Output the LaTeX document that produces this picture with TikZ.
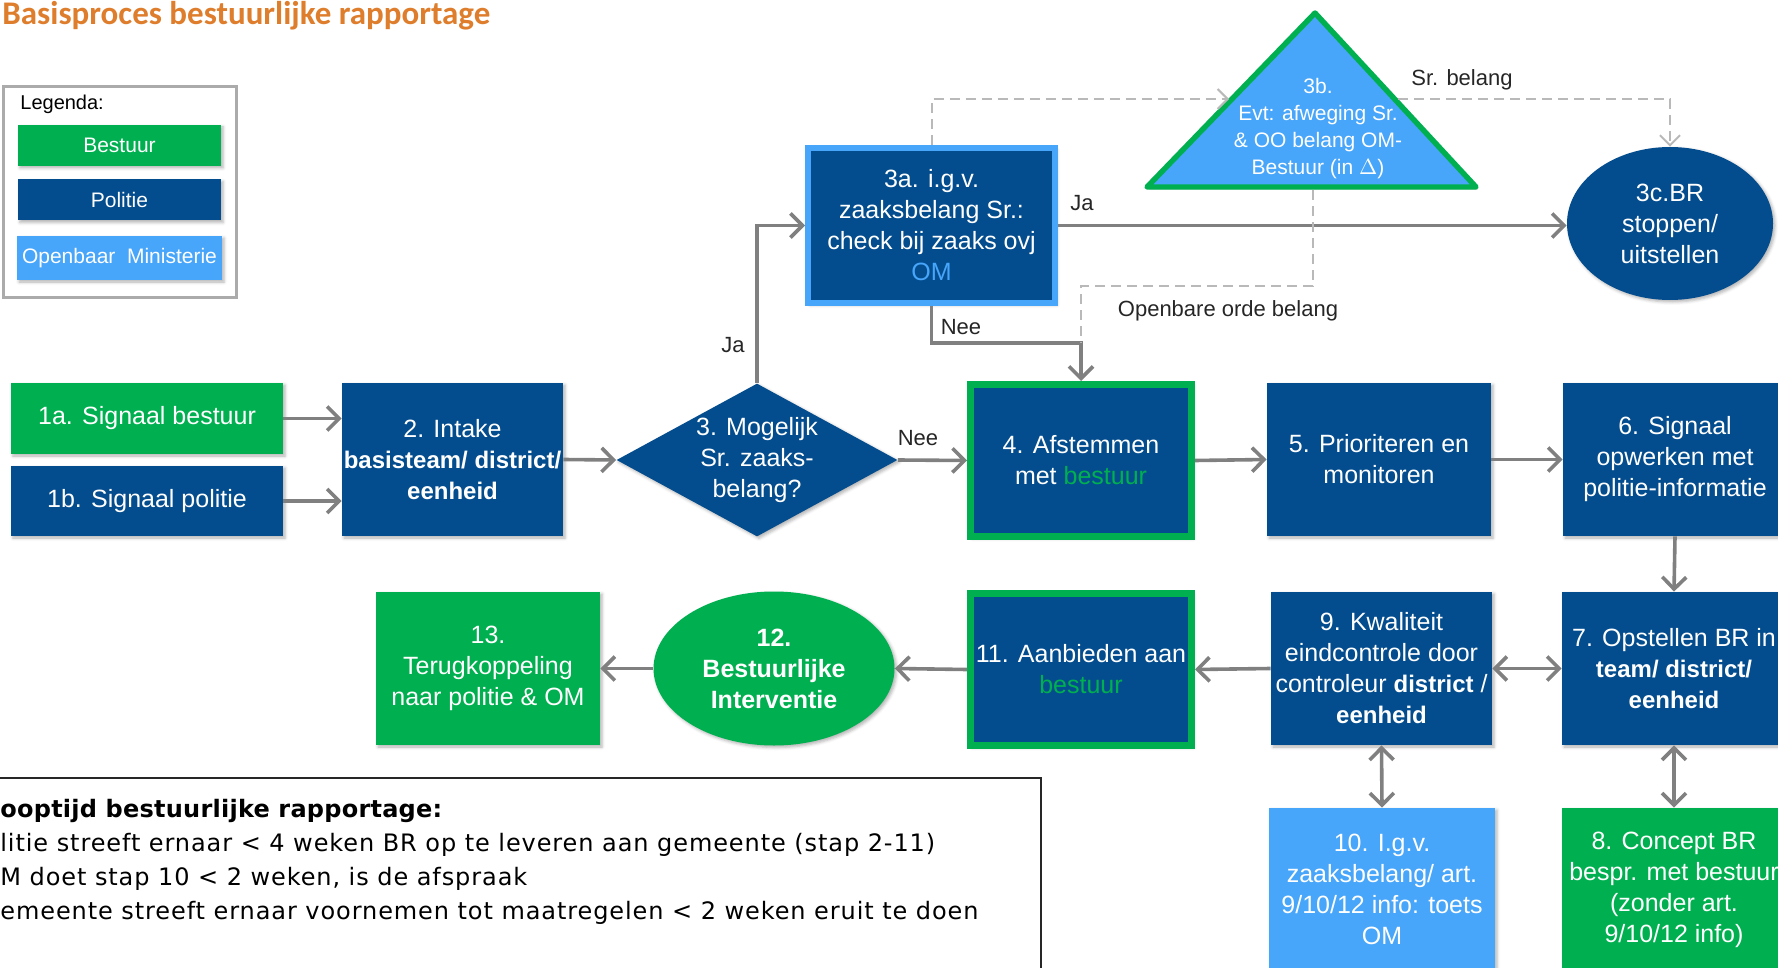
\documentclass[tikz,border=0pt]{standalone}
\usepackage{fontspec}
\setmainfont{Liberation Sans}
\newfontfamily\titelfont{Carlito}
\newfontfamily\notefont[LetterSpace=3.8]{DejaVu Sans}
\newfontfamily\notefontvet[LetterSpace=1]{DejaVu Sans}
\usetikzlibrary{arrows.meta, shapes.geometric, shadows.blur}
\definecolor{bestuur}{RGB}{0, 176, 80}
\definecolor{politie}{RGB}{3, 76, 141}
\definecolor{om}{RGB}{71, 165, 250}
\definecolor{pijlgrijs}{RGB}{128, 128, 128}
\definecolor{stipgrijs}{RGB}{185, 185, 185}
\definecolor{titel}{RGB}{222, 125, 44}
\newcommand\stapfont{\fontsize{12.5}{15.5}\selectfont}
\newcommand\kleinfont{\fontsize{11}{13}\selectfont}
\newcommand\smalvet[1]{{\fontsize{12}{15.5}\selectfont\bfseries #1}}
\tikzset{
  schaduw/.style={blur shadow={shadow xshift=1pt, shadow yshift=-1pt, shadow blur radius=1.5pt, shadow opacity=30}},
  stap/.style={rectangle, inner sep=0pt, align=center, text=white, font=\stapfont, minimum width=112pt, minimum height=76.5pt, schaduw},
  keuze/.style={diamond, aspect=1.84, inner sep=0pt, align=center, text=white, font=\stapfont, fill=politie, minimum width=140.5pt, minimum height=76.5pt, schaduw},
  rond/.style={ellipse, inner sep=0pt, align=center, text=white, font=\stapfont, schaduw},
  legendabox/.style={rectangle, inner sep=0pt, text=white, font=\fontsize{10.5}{12}\selectfont, minimum width=101.5pt, minimum height=20.5pt, schaduw},
  tekst/.style={inner sep=1pt, font=\kleinfont, text=black!85},
  pijl/.style={draw=pijlgrijs, line width=1.8pt, -{Straight Barb[length=6pt, width=12pt]}},
  dubbel/.style={draw=pijlgrijs, line width=1.8pt, {Straight Barb[length=6pt, width=12pt]}-{Straight Barb[length=6pt, width=12pt]}},
  stip/.style={draw=stipgrijs, line width=1pt, dash pattern=on 5pt off 3pt},
  notitie/.style={anchor=base west, inner sep=0pt, font=\notefont\fontsize{12}{14}\selectfont}
}

\begin{document}
\begin{tikzpicture}[x=0.5pt, y=-0.5pt]
    \useasboundingbox (0,0) rectangle (1778,968);
    \clip (0,0) rectangle (1778,968);

    % Title
    \node[anchor=base west, inner sep=0pt, text=titel, font=\titelfont\bfseries\fontsize{16.5}{19}\selectfont] (titel) at (2,25) {Basisproces bestuurlijke rapportage};

    % Legend
    \node[draw=black!33, line width=1.5pt, minimum width=116.5pt, minimum height=105.5pt] (legenda) at (120,192) {};
    \node[anchor=west, inner sep=0pt, font=\fontsize{10}{12}\selectfont] (legendakop) at (20,104) {Legenda:};
    \node[legendabox, fill=bestuur] (lbestuur) at (119.5,145.5) {Bestuur};
    \node[legendabox, fill=politie] (lpolitie) at (119.5,200) {Politie};
    \node[legendabox, fill=om, minimum width=102.5pt, minimum height=22pt] (lom) at (119.5,258) {Openbaar~ Ministerie};

    % Upper row
    \node[stap, fill=bestuur, minimum width=136pt, minimum height=35.5pt] (s1a) at (147,418.5) {1a. Signaal bestuur};
    \node[stap, fill=politie, minimum width=136pt, minimum height=35pt] (s1b) at (147,501) {1b. Signaal politie};
    \node[stap, fill=politie, minimum width=110.5pt] (s2) at (452.5,459.5) {2. Intake\\\smalvet{basisteam/ district/}\\\smalvet{eenheid}};
    \node[keuze] (s3) at (757,460) {3. Mogelijk\\Sr. zaaks-\\belang?};
    \node[stap, fill=politie, draw=bestuur, line width=3.5pt, minimum width=110.5pt, minimum height=76pt] (s4) at (1081,460.5) {4. Afstemmen\\met \textcolor{bestuur}{bestuur}};
    \node[stap, fill=politie] (s5) at (1379,459.5) {5. Prioriteren en\\monitoren};
    \node[stap, fill=politie] (s6) at (1675,459.5) {6. Signaal\\opwerken met\\politie-informatie};

    % Top part
    \node[stap, fill=politie, draw=om, line width=3pt, minimum width=123.5pt, minimum height=77.5pt] (s3a) at (931.5,225.5) {3a. i.g.v.\\zaaksbelang Sr.:\\check bij zaaks ovj\\\textcolor{om}{OM}};
    \coordinate (t3btop) at (1315,13);
    \coordinate (t3blinks) at (1147,187);
    \coordinate (t3brechts) at (1476,187);
    \fill[black, opacity=0.12] ($(t3btop)+(2,3)$) -- ($(t3blinks)+(2,3)$) -- ($(t3brechts)+(2,3)$) -- cycle;
    \filldraw[fill=om, draw=bestuur, line width=2.7pt, line join=round] (t3btop) -- (t3blinks) -- (t3brechts) -- cycle;
    \node[align=center, inner sep=0pt, text=white, font=\fontsize{10.5}{13.5}\selectfont] (s3b) at (1318,129) {3b.\\Evt: afweging Sr.\\\& OO belang OM-\\Bestuur (in $\Delta$)};
    \node[rond, fill=politie, minimum width=103pt, minimum height=76.5pt] (s3c) at (1670,223.5) {3c.BR\\stoppen/\\uitstellen};

    % Lower row
    \node[stap, fill=politie] (s7) at (1674,668.5) {7. Opstellen BR in\\\smalvet{team/ district/}\\\smalvet{eenheid}};
    \node[stap, fill=bestuur, minimum height=81.5pt] (s8) at (1674,889.5) {8. Concept BR\\bespr. met bestuur\\(zonder art.\\9/10/12 info)};
    \node[stap, fill=politie, minimum width=110.5pt] (s9) at (1381.5,668.5) {9. Kwaliteit\\eindcontrole door\\controleur \smalvet{district} /\\\smalvet{eenheid}};
    \node[stap, fill=om, minimum width=113pt, minimum height=81.5pt] (s10) at (1382,889.5) {10. I.g.v.\\zaaksbelang/ art.\\9/10/12 info: toets\\OM};
    \node[stap, fill=politie, draw=bestuur, line width=3.5pt, minimum width=110.5pt, minimum height=76pt] (s11) at (1081,669.5) {11. Aanbieden aan\\\textcolor{bestuur}{bestuur}};
    \node[rond, fill=bestuur, font=\stapfont\bfseries, minimum width=120.5pt, minimum height=77pt] (s12) at (774,668.5) {12.\\Bestuurlijke\\Interventie};
    \node[stap, fill=bestuur] (s13) at (488,668.5) {13.\\Terugkoppeling\\naar politie \& OM};

    % Arrows
    \draw[pijl] (s1a.east) -- (s1a.east -| s2.west);
    \draw[pijl] (s1b.east) -- (s1b.east -| s2.west);
    \foreach \a/\b in {s2/s3, s3/s4, s4/s5, s5/s6}
        \draw[pijl] (\a.east) -- (\b.west);
    \draw[pijl] (s6.south) -- (s7.north);
    \draw[dubbel] (s9.east) -- (s7.west);
    \foreach \a/\b in {s9/s11, s11/s12, s12/s13}
        \draw[pijl] (\a.west) -- (\b.east);
    \draw[dubbel] (s9.south) -- (s10.north);
    \draw[dubbel] (s7.south) -- (s8.north);
    \draw[pijl] (s3.north) |- (s3a.west);
    \draw[pijl] (s3a.east) -- (s3a.east -| s3c.west);
    \coordinate (neeknik) at (1081,343);
    \draw[pijl] (s3a.south) |- (neeknik) -- (s4.north);

    % Dashed lines round 3b
    \coordinate (t3bin) at (1229,99);
    \coordinate (t3buit) at (1398,99);
    \coordinate (t3bonder) at (1313,190);
    \draw[stip, -{Straight Barb[length=5pt, width=10pt]}] (s3a.north) |- (t3bin);
    \draw[stip, -{Straight Barb[length=5pt, width=10pt]}] (t3buit) -| (s3c.north);
    \draw[stip] (t3bonder) -- ++(0,96) -| (neeknik);

    % Labels
    \node[tekst] (lja1) at (733,345) {Ja};
    \node[tekst] (lnee1) at (918,438) {Nee};
    \node[tekst] (lnee2) at (961,327) {Nee};
    \node[tekst] (lja2) at (1082,203) {Ja};
    \node[tekst] (lsr) at (1462,80) {Sr. belang};
    \node[tekst] (loo) at (1228,311) {Openbare orde belang};

    % Lead time
    \draw[black!85, line width=1pt] (-10,778) rectangle (1041,1000);
    \node[notitie, font=\notefontvet\bfseries\fontsize{12}{14}\selectfont] (r1) at (0,817) {\llap{L}ooptijd bestuurlijke rapportage:};
    \node[notitie] (r2) at (0,851) {\llap{Po}litie streeft ernaar < 4 weken BR op te leveren aan gemeente (stap 2-11)};
    \node[notitie] (r3) at (0,885) {\llap{O}M doet stap 10 < 2 weken, is de afspraak};
    \node[notitie] (r4) at (0,919) {\llap{G}emeente streeft ernaar voornemen tot maatregelen < 2 weken eruit te doen};
\end{tikzpicture}
\end{document}
